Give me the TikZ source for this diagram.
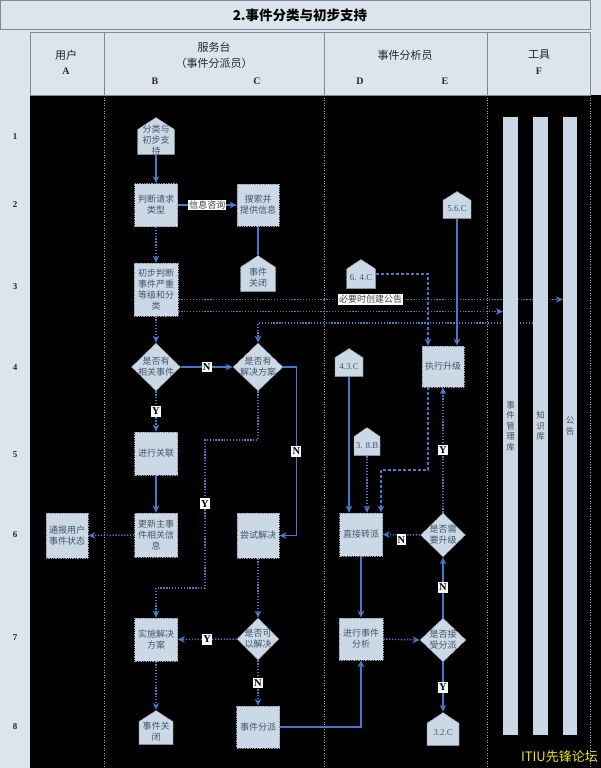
\documentclass[tikz,border=0pt]{standalone}
\usepackage{fontspec}
\setmainfont{Liberation Serif}
\newfontfamily\cjk{Noto Sans CJK SC}
\usetikzlibrary{arrows.meta,shapes.geometric,calc}
\pgfdeclarelayer{back}
\pgfdeclarelayer{conn}
\pgfsetlayers{back,conn,main}
\definecolor{bgl}{HTML}{DCE5EE}
\definecolor{framec}{HTML}{7F8A96}
\definecolor{boxf}{HTML}{CBD8E6}
\definecolor{boxd}{HTML}{8C96A0}
\definecolor{ntext}{HTML}{465466}
\definecolor{arr}{HTML}{4479CC}
\definecolor{barf}{HTML}{C9D7E6}
\definecolor{wmc}{HTML}{F2E600}
\begin{document}
\begin{tikzpicture}[x=1pt,y=-1pt,
  nfont/.style={font=\cjk\fontsize{9}{11}\selectfont, text=ntext},
  stepbox/.style={nfont, draw=boxd, densely dotted, line width=0.7pt, fill=boxf, inner sep=0pt, align=center},
  decision/.style={diamond, draw=boxd, densely dotted, line width=0.7pt, fill=boxf, inner sep=0pt},
  dlab/.style={nfont, align=center, inner sep=0pt},
  pent/.style={inner sep=0pt, path picture={
    \path[fill=boxf, draw=boxd, densely dotted, line width=0.7pt]
      ([shift={(0.5pt,0.5pt)}]path picture bounding box.south west) --
      ([shift={(-0.5pt,0.5pt)}]path picture bounding box.south east) --
      ($(path picture bounding box.north east)!0.33!(path picture bounding box.south east)+(-0.5pt,0pt)$) --
      ([yshift=-0.5pt]path picture bounding box.north) --
      ($(path picture bounding box.north west)!0.33!(path picture bounding box.south west)+(0.5pt,0pt)$) -- cycle;}},
  plab/.style={font=\fontsize{9}{9}\selectfont, text=ntext, inner sep=0pt, yshift=-4pt},
  pclab/.style={nfont, align=center, inner sep=0pt, yshift=-4pt},
  barst/.style={fill=barf, inner sep=0pt, minimum width=15pt, minimum height=618pt, align=center, font=\cjk\fontsize{8.5}{10.5}\selectfont, text=black!70},
  hfont/.style={font=\cjk\fontsize{11}{11}\selectfont, text=black!85},
  hlet/.style={font=\bfseries\fontsize{10}{10}\selectfont, text=black!85},
  rownum/.style={font=\bfseries\fontsize{9}{9}\selectfont, text=black!85},
  yn/.style={fill=white, font=\bfseries\fontsize{10.5}{10.5}\selectfont, inner xsep=1.2pt, inner ysep=2pt, text=black},
  tag/.style={fill=white, font=\cjk\fontsize{9}{9}\selectfont, text=black!75, inner sep=1pt},
  solln/.style={draw=arr, line width=1.4pt},
  dotln/.style={draw=arr, line width=1.5pt, dash pattern=on 1.3pt off 1.6pt},
  dshln/.style={draw=arr, line width=1.2pt, dash pattern=on 3pt off 2pt},
  ar/.style={-{Stealth[length=7pt,width=6.5pt,inset=2.2pt]}},
  lanesep/.style={draw=gray!70, dotted, line width=0.6pt}
]
\useasboundingbox (0,0) rectangle (601,768);

\begin{pgfonlayer}{back}
\fill[bgl] (0,0) rectangle (601,768);
\fill[black] (30,95) rectangle (601,768);
\draw[framec, line width=0.8pt] (0.5,0.5) rectangle (590,29);
\draw[framec, line width=0.8pt] (30,32) rectangle (590,95);
\draw[framec, line width=0.8pt] (104,32) -- (104,95) (324,32) -- (324,95) (487,32) -- (487,95);
\draw[lanesep] (104,95) -- (104,768) (324,95) -- (324,768) (487,95) -- (487,768) (590,95) -- (590,768);
\end{pgfonlayer}

% title and header
\node[font=\cjk\bfseries\fontsize{13.5}{13.5}\selectfont] (title) at (300,15) {2.事件分类与初步支持};
\node[hfont] (hA) at (66,55) {用户};
\node[hlet] (hAl) at (66,71) {A};
\node[hfont] (hB) at (214,47) {服务台};
\node[hfont] (hB2) at (214,63) {（事件分派员）};
\node[hlet] (hBl) at (155,81) {B};
\node[hlet] (hCl) at (257,81) {C};
\node[hfont] (hD) at (405,55) {事件分析员};
\node[hlet] (hDl) at (360,81) {D};
\node[hlet] (hEl) at (445,81) {E};
\node[hfont] (hF) at (539,55) {工具};
\node[hlet] (hFl) at (539,71) {F};

% row numbers
\node[rownum] (r1) at (15,137) {1};
\node[rownum] (r2) at (15,205) {2};
\node[rownum] (r3) at (15,287) {3};
\node[rownum] (r4) at (15,368) {4};
\node[rownum] (r5) at (15,455) {5};
\node[rownum] (r6) at (15,535) {6};
\node[rownum] (r7) at (15,638) {7};
\node[rownum] (r8) at (15,727) {8};

% tool bars
\node[barst] (bar1) at (510.5,426) {事\\件\\管\\理\\库};
\node[barst] (bar2) at (540.5,426) {知\\识\\库};
\node[barst, minimum width=14pt] (bar3) at (570,426) {公\\告};

% service desk nodes
\node[pent, minimum width=38pt, minimum height=38pt, label={[pclab]center:分类与\\初步支\\持}] (pS) at (156,136) {};
\node[stepbox, minimum width=43pt, minimum height=43pt] (b1) at (156,205) {判断请求\\类型};
\node[stepbox, minimum width=42pt, minimum height=42pt] (b2) at (258,205) {搜索并\\提供信息};
\node[pent, minimum width=36pt, minimum height=37pt, label={[pclab]center:事件\\关闭}] (pC1) at (258,273.5) {};
\node[stepbox, minimum width=44pt, minimum height=53pt] (b3) at (156,289.5) {初步判断\\事件严重\\等级和分\\类};
\node[decision, minimum width=49pt, minimum height=48pt, label={[dlab]center:是否有\\相关事件}] (d1) at (156,367) {};
\node[decision, minimum width=50pt, minimum height=48pt, label={[dlab]center:是否有\\解决方案}] (d2) at (258,367) {};
\node[stepbox, minimum width=43pt, minimum height=43pt] (b4) at (156,453.5) {进行关联};
\node[stepbox, minimum width=43pt, minimum height=44pt] (b5) at (156,535) {更新主事\\件相关信\\息};
\node[stepbox, minimum width=42pt, minimum height=45pt] (b6) at (67,535.5) {通报用户\\事件状态};
\node[stepbox, minimum width=42pt, minimum height=45pt] (b8) at (258,535.5) {尝试解决};
\node[decision, minimum width=42pt, minimum height=42pt, label={[dlab]center:是否可\\以解决}] (d3) at (258,639) {};
\node[stepbox, minimum width=43pt, minimum height=43pt] (b9) at (156,639.5) {实施解决\\方案};
\node[pent, minimum width=35pt, minimum height=35pt, label={[pclab]center:事件关\\闭}] (pC2) at (156,727.5) {};
\node[stepbox, minimum width=43pt, minimum height=42pt] (b10) at (258,727) {事件分派};

% analyst nodes
\node[pent, minimum width=30pt, minimum height=30pt, label={[plab]center:6. 4.C}] (p64) at (361,274) {};
\node[pent, minimum width=29pt, minimum height=28pt, label={[plab]center:5.6.C}] (p56) at (457,205) {};
\node[pent, minimum width=29pt, minimum height=29pt, label={[plab]center:4.3.C}] (p43) at (349,362.5) {};
\node[pent, minimum width=27pt, minimum height=29pt, label={[plab]center:3. 8.B}] (p38) at (367,441.5) {};
\node[stepbox, minimum width=42pt, minimum height=41pt] (b13) at (443,366.5) {执行升级};
\node[stepbox, minimum width=43pt, minimum height=43pt] (b12) at (361,534.5) {直接转派};
\node[decision, minimum width=45pt, minimum height=44pt, label={[dlab]center:是否需\\要升级}] (d5) at (443,535) {};
\node[stepbox, minimum width=44pt, minimum height=42pt] (b11) at (361,639) {进行事件\\分析};
\node[decision, minimum width=46pt, minimum height=44pt, label={[dlab]center:是否接\\受分派}] (d4) at (443,640) {};
\node[pent, minimum width=33pt, minimum height=34pt, label={[plab]center:3.2.C}] (p32) at (443,729) {};

% watermark
\node[font=\cjk\fontsize{13}{13}\selectfont, text=wmc, anchor=east, inner sep=0pt] (wm) at (598,757) {ITIU先锋论坛};

\begin{pgfonlayer}{conn}
\draw[solln, ar] (pS.south) -- (b1.north);
\draw[solln, ar] (b1.east) -- node[tag]{信息咨询} (b2.west);
\draw[solln] (b2.south) -- (pC1.north);
\draw[dotln, ar] (b1.south) -- (b3.north);
\draw[dotln, ar] (b3.south) -- (d1.north);
\draw[dotln, ar] ([yshift=-10pt]b3.east) coordinate (u1) -- node[tag]{必要时创建公告} (u1 -| bar3.west);
\draw[dotln, ar] ([yshift=-22pt]b3.east) coordinate (u2) -- (u2 -| bar1.west);
\draw[dotln, ar] (bar2.west |- 0,323) -| (d2.north);
\draw[solln, ar] (d1.east) -- node[yn]{N} (d2.west);
\draw[dotln, ar] (d1.south) -- node[yn]{Y} (b4.north);
\draw[solln, ar] (b4.south) -- (b5.north);
\draw[dotln, ar] (b5.west) -- (b6.east);
\draw[dotln, ar] (d2.south) |- (205,440) -- node[yn, pos=0.43]{Y} (205,588) -| (b9.north);
\draw[solln, ar] (d2.east) -- ++(13,0) |- node[yn, pos=0.25]{N} (b8.east);
\draw[dotln, ar] (b8.south) -- (d3.north);
\draw[dotln, ar] (d3.west) -- node[yn]{Y} (b9.east);
\draw[dotln, ar] (b9.south) -- (pC2.north);
\draw[dotln, ar] (d3.south) -- node[yn]{N} (b10.north);
\draw[solln, ar] (b10.east) -| (b11.south);
\draw[dotln, ar] (b11.east) -- (d4.west);
\draw[solln, ar] (d4.south) -- node[yn]{Y} (p32.north);
\draw[solln, ar] (d4.north) -- node[yn]{N} (d5.south);
\draw[dotln, ar] (d5.west) -- node[yn, yshift=-5pt]{N} (b12.east);
\draw[dotln, ar] (d5.north) -- node[yn]{Y} (b13.south);
\draw[dshln, ar] (p64.east) -| ([xshift=-15pt]b13.north);
\draw[solln, ar] (p56.south) -- (p56.south |- b13.north);
\draw[dshln, ar] ([xshift=-15pt]b13.south) |- (381,470) -- ([xshift=20pt]b12.north);
\draw[solln, ar] (p43.south) -- (p43.south |- b12.north);
\draw[dotln, ar] (p38.south) -- (p38.south |- b12.north);
\draw[solln, ar] (b12.south) -- (b11.north);
\end{pgfonlayer}
\end{tikzpicture}
\end{document}
